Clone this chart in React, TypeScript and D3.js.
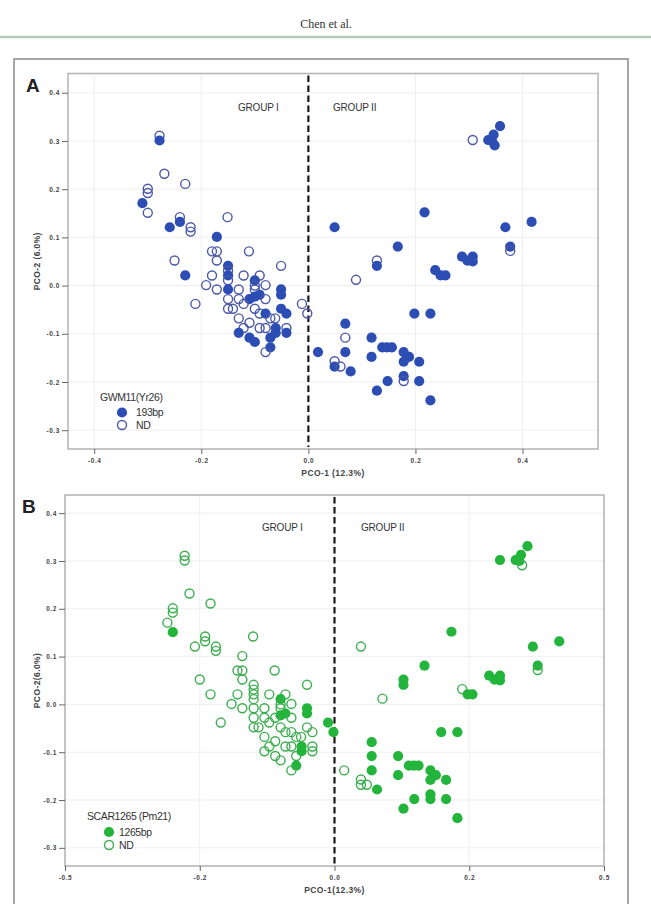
import React, { useRef, useEffect } from 'react';
import * as d3 from 'd3';

// PCO scores of the accessions (axis 1, axis 2)
const pcoX = [
  -0.278, -0.278, -0.269, -0.23, -0.3, -0.3, -0.31, -0.3, -0.24, -0.24,
  -0.259, -0.22, -0.22, -0.151, -0.171, -0.18, -0.171, -0.111, -0.25, -0.171,
  -0.15, -0.15, -0.15, -0.15, -0.23, -0.18, -0.121, -0.091, -0.051, -0.191,
  -0.171, -0.15, -0.13, -0.1, -0.1, -0.08, -0.1, -0.051, -0.051, -0.091,
  -0.1, -0.11, -0.15, -0.13, -0.08, -0.211, -0.15, -0.141, -0.121, -0.1,
  -0.051, -0.041, -0.091, -0.08, -0.13, -0.071, -0.062, -0.012, -0.002, -0.11,
  -0.121, -0.091, -0.08, -0.061, -0.041, -0.13, -0.11, -0.1, -0.071, -0.061,
  -0.041, -0.071, -0.08, 0.018, 0.049, 0.049, 0.06, 0.079, 0.049, 0.217,
  0.167, 0.128, 0.128, 0.089, 0.237, 0.247, 0.256, 0.287, 0.297, 0.307,
  0.307, 0.368, 0.417, 0.377, 0.377, 0.198, 0.228, 0.069, 0.069, 0.069,
  0.118, 0.118, 0.138, 0.147, 0.156, 0.178, 0.188, 0.178, 0.207, 0.178,
  0.178, 0.148, 0.207, 0.128, 0.228, 0.358, 0.307, 0.336, 0.346, 0.343,
  0.348,
];
const pcoY = [
  0.311, 0.301, 0.232, 0.211, 0.201, 0.192, 0.171, 0.151, 0.142, 0.132,
  0.121, 0.121, 0.112, 0.142, 0.101, 0.071, 0.071, 0.071, 0.052, 0.052,
  0.041, 0.031, 0.021, 0.011, 0.021, 0.021, 0.021, 0.021, 0.041, 0.001,
  -0.008, -0.008, -0.008, 0.011, 0.0, 0.001, -0.008, -0.008, -0.019, -0.019,
  -0.023, -0.028, -0.028, -0.028, -0.028, -0.038, -0.048, -0.048, -0.038, -0.048,
  -0.048, -0.058, -0.058, -0.058, -0.068, -0.068, -0.068, -0.038, -0.058, -0.077,
  -0.088, -0.088, -0.088, -0.088, -0.088, -0.098, -0.108, -0.117, -0.108, -0.098,
  -0.098, -0.128, -0.138, -0.138, -0.157, -0.168, -0.168, -0.178, 0.121, 0.152,
  0.081, 0.052, 0.041, 0.012, 0.032, 0.021, 0.021, 0.06, 0.052, 0.06,
  0.05, 0.121, 0.132, 0.081, 0.072, -0.058, -0.058, -0.079, -0.108, -0.138,
  -0.108, -0.148, -0.128, -0.128, -0.128, -0.138, -0.148, -0.158, -0.158, -0.188,
  -0.198, -0.198, -0.198, -0.218, -0.238, 0.331, 0.302, 0.302, 0.313, 0.3,
  0.291,
];
// marker status: 1 = band present, 0 = ND
const yr26Band = [
  0, 1, 0, 0, 0, 0, 1, 0, 0, 1, 1, 0, 0, 0, 1, 0, 0, 0, 0, 0,
  1, 0, 1, 0, 1, 0, 0, 0, 0, 0, 0, 1, 0, 1, 0, 0, 0, 1, 1, 1,
  1, 1, 0, 0, 0, 0, 0, 0, 0, 0, 1, 1, 0, 1, 0, 0, 0, 0, 0, 0,
  0, 0, 0, 1, 0, 1, 1, 1, 1, 1, 1, 1, 0, 1, 0, 1, 0, 1, 1, 1,
  1, 0, 1, 0, 1, 1, 1, 1, 1, 1, 1, 1, 1, 1, 0, 1, 1, 1, 0, 1,
  1, 1, 1, 1, 1, 1, 1, 1, 1, 1, 0, 1, 1, 1, 1, 1, 0, 1, 1, 1,
  1,
];
const pm21Band = [
  0, 0, 0, 0, 0, 0, 0, 1, 0, 0, 0, 0, 0, 0, 0, 0, 0, 0, 0, 0,
  0, 0, 0, 0, 0, 0, 0, 0, 0, 0, 0, 0, 0, 1, 0, 0, 0, 1, 1, 1,
  1, 0, 0, 0, 0, 0, 0, 0, 0, 0, 0, 0, 0, 0, 0, 0, 0, 1, 1, 0,
  0, 0, 0, 1, 0, 0, 0, 0, 0, 1, 0, 1, 0, 0, 0, 0, 0, 1, 0, 1,
  1, 1, 1, 0, 0, 1, 1, 1, 1, 1, 1, 1, 1, 1, 0, 1, 1, 1, 1, 1,
  1, 1, 1, 1, 1, 1, 1, 1, 1, 1, 1, 1, 1, 1, 1, 1, 1, 1, 1, 1,
  0,
];

const yTicks = [0.4, 0.3, 0.2, 0.1, 0.0, -0.1, -0.2, -0.3];
const yTickLabels = ['0.4', '0.3', '0.2', '0.1', '0.0', '-0.1', '-0.2', '-0.3'];
const xTicksA = [-0.4, -0.2, 0.0, 0.2, 0.4];
const xTickLabelsA = ['-0.4', '-0.2', '0.0', '0.2', '0.4'];
const xTicksB = [-0.5, -0.25, 0.0, 0.25, 0.5];
const xTickLabelsB = ['-0.5', '-0.2', '0.0', '0.2', '0.5'];

const groupLabels = ['GROUP I', 'GROUP II'];

type Panel = {
  frame: { left: number; right: number; top: number; bottom: number };
  xDomain: [number, number];
  yDomain: [number, number];
  xTicks: number[];
  xTickLabels: string[];
  band: number[];
  fill: string;
  ring: string;
  letter: string;
  letterPos: [number, number];
  xTitle: string;
  yTitle: string;
  legendTitle: string;
  legendLabels: string[];
  legend: { titleX: number; titleY: number; markX: number; textX: number; rows: [number, number] };
  groups: { y: number; x: [number, number] };
};

const panels: Panel[] = [
  {
    frame: { left: 68, right: 598, top: 73.5, bottom: 449 },
    xDomain: [-0.449, 0.541],
    yDomain: [-0.339, 0.44],
    xTicks: xTicksA,
    xTickLabels: xTickLabelsA,
    band: yr26Band,
    fill: '#2c4db3',
    ring: '#4b58a8',
    letter: 'A',
    letterPos: [26, 92],
    xTitle: 'PCO-1 (12.3%)',
    yTitle: 'PCO-2 (6.0%)',
    legendTitle: 'GWM11(Yr26)',
    legendLabels: ['193bp', 'ND'],
    legend: { titleX: 100, titleY: 397, markX: 122, textX: 136, rows: [412.5, 425] },
    groups: { y: 107, x: [238, 333] },
  },
  {
    frame: { left: 65, right: 604, top: 495, bottom: 866 },
    xDomain: [-0.5, 0.5],
    yDomain: [-0.338, 0.438],
    xTicks: xTicksB,
    xTickLabels: xTickLabelsB,
    band: pm21Band,
    fill: '#23b43c',
    ring: '#3cae50',
    letter: 'B',
    letterPos: [22, 513],
    xTitle: 'PCO-1(12.3%)',
    yTitle: 'PCO-2(6.0%)',
    legendTitle: 'SCAR1265 (Pm21)',
    legendLabels: ['1265bp', 'ND'],
    legend: { titleX: 87, titleY: 816.5, markX: 109, textX: 119, rows: [832, 845] },
    groups: { y: 527, x: [262, 361] },
  },
];

const SANS = 'Liberation Sans, Arial, sans-serif';

function drawPanel(root: d3.Selection<SVGGElement, unknown, null, undefined>, p: Panel) {
  const f = p.frame;
  const x = d3.scaleLinear().domain(p.xDomain).range([f.left, f.right]);
  const y = d3.scaleLinear().domain(p.yDomain).range([f.bottom, f.top]);
  const g = root.append('g');

  // faint grid
  g.append('g')
    .selectAll('line')
    .data(p.xTicks)
    .join('line')
    .attr('x1', (d) => x(d))
    .attr('x2', (d) => x(d))
    .attr('y1', f.top)
    .attr('y2', f.bottom)
    .attr('stroke', '#efefef');
  g.append('g')
    .selectAll('line')
    .data(yTicks)
    .join('line')
    .attr('x1', f.left)
    .attr('x2', f.right)
    .attr('y1', (d) => y(d))
    .attr('y2', (d) => y(d))
    .attr('stroke', '#efefef');

  g.append('rect')
    .attr('x', f.left)
    .attr('y', f.top)
    .attr('width', f.right - f.left)
    .attr('height', f.bottom - f.top)
    .attr('fill', 'none')
    .attr('stroke', '#b2b2b2')
    .attr('stroke-width', 1.5);

  const styleAxis = (s: d3.Selection<SVGGElement, unknown, null, undefined>) => {
    s.select('.domain').remove();
    s.selectAll('line').attr('stroke', '#666');
    s.selectAll('text')
      .attr('fill', '#444')
      .attr('font-size', 6.5)
      .attr('font-weight', 'bold')
      .attr('letter-spacing', 0.6)
      .attr('font-family', SANS);
  };

  g.append('g')
    .attr('transform', `translate(${f.left},0)`)
    .call(
      d3
        .axisLeft(y)
        .tickValues(yTicks)
        .tickFormat((_, i) => yTickLabels[i])
        .tickSize(6)
        .tickPadding(2)
    )
    .call(styleAxis);

  g.append('g')
    .attr('transform', `translate(0,${f.bottom})`)
    .call(
      d3
        .axisBottom(x)
        .tickValues(p.xTicks)
        .tickFormat((_, i) => p.xTickLabels[i])
        .tickSize(5)
        .tickPadding(4)
    )
    .call(styleAxis);

  // axis titles
  g.append('text')
    .attr('x', (f.left + f.right) / 2)
    .attr('y', f.bottom + 27)
    .attr('text-anchor', 'middle')
    .attr('font-size', 8.5)
    .attr('font-weight', 'bold')
    .attr('letter-spacing', 0.4)
    .attr('font-family', SANS)
    .attr('fill', '#444')
    .text(p.xTitle);
  g.append('text')
    .attr('transform', `translate(40,${(f.top + f.bottom) / 2}) rotate(-90)`)
    .attr('text-anchor', 'middle')
    .attr('font-size', 8.5)
    .attr('font-weight', 'bold')
    .attr('letter-spacing', 0.4)
    .attr('font-family', SANS)
    .attr('fill', '#444')
    .text(p.yTitle);

  // panel letter
  g.append('text')
    .attr('x', p.letterPos[0])
    .attr('y', p.letterPos[1])
    .attr('font-size', 19)
    .attr('font-weight', 'bold')
    .attr('font-family', SANS)
    .attr('fill', '#222')
    .text(p.letter);

  // group divider at PCO-1 = 0
  g.append('line')
    .attr('x1', x(0))
    .attr('x2', x(0))
    .attr('y1', f.top + 2)
    .attr('y2', f.bottom - 2)
    .attr('stroke', '#1a1a1a')
    .attr('stroke-width', 2.2)
    .attr('stroke-dasharray', '6.5 3.5');

  g.append('g')
    .selectAll('text')
    .data(groupLabels)
    .join('text')
    .attr('x', (_, i) => p.groups.x[i])
    .attr('y', p.groups.y + 3.5)
    .attr('font-size', 10)
    .attr('font-family', SANS)
    .attr('letter-spacing', -0.2)
    .attr('fill', '#333')
    .text((d) => d);

  // accessions
  const pts = pcoX.map((v, i) => ({ x: v, y: pcoY[i], band: p.band[i] }));
  g.append('g')
    .selectAll('circle')
    .data(pts)
    .join('circle')
    .attr('cx', (d) => x(d.x))
    .attr('cy', (d) => y(d.y))
    .attr('r', (d) => (d.band ? 5.1 : 4.5))
    .attr('fill', (d) => (d.band ? p.fill : 'none'))
    .attr('stroke', (d) => (d.band ? 'none' : p.ring))
    .attr('stroke-width', 1.4);

  // legend
  const lg = p.legend;
  g.append('text')
    .attr('x', lg.titleX)
    .attr('y', lg.titleY + 3.5)
    .attr('font-size', 10.5)
    .attr('font-family', SANS)
    .attr('letter-spacing', -0.4)
    .attr('fill', '#333')
    .text(p.legendTitle);
  [1, 0].forEach((b, i) => {
    g.append('circle')
      .attr('cx', lg.markX)
      .attr('cy', lg.rows[i])
      .attr('r', b ? 5.1 : 4.5)
      .attr('fill', b ? p.fill : 'none')
      .attr('stroke', b ? 'none' : p.ring)
      .attr('stroke-width', 1.4);
    g.append('text')
      .attr('x', lg.textX)
      .attr('y', lg.rows[i] + 3.5)
      .attr('font-size', 10.5)
      .attr('font-family', SANS)
      .attr('letter-spacing', -0.4)
      .attr('fill', '#333')
      .text(p.legendLabels[i]);
  });
}

const App: React.FC = () => {
  const ref = useRef<SVGSVGElement | null>(null);

  useEffect(() => {
    if (!ref.current) return;
    const svg = d3.select(ref.current);
    svg.selectAll('*').remove();

    svg.append('rect').attr('width', 651).attr('height', 904).attr('fill', '#fff');

    // running header
    svg
      .append('text')
      .attr('x', 326)
      .attr('y', 28)
      .attr('text-anchor', 'middle')
      .attr('font-size', 12)
      .attr('font-family', 'Liberation Serif, Times New Roman, serif')
      .attr('fill', '#333')
      .text('Chen et al.');
    svg
      .append('line')
      .attr('x1', 0)
      .attr('x2', 651)
      .attr('y1', 37)
      .attr('y2', 37)
      .attr('stroke', '#b6c9bd')
      .attr('stroke-width', 2.5);

    // figure border
    svg
      .append('rect')
      .attr('x', 14)
      .attr('y', 59)
      .attr('width', 614)
      .attr('height', 860)
      .attr('fill', 'none')
      .attr('stroke', '#8a8a8a')
      .attr('stroke-width', 1.5);

    const root = svg.append('g') as unknown as d3.Selection<SVGGElement, unknown, null, undefined>;
    panels.forEach((p) => drawPanel(root, p));
  }, []);

  return (
    <svg
      ref={ref}
      width={651}
      height={904}
      style={{ position: 'absolute', left: 0, top: 0, display: 'block' }}
    />
  );
};

export default App;
